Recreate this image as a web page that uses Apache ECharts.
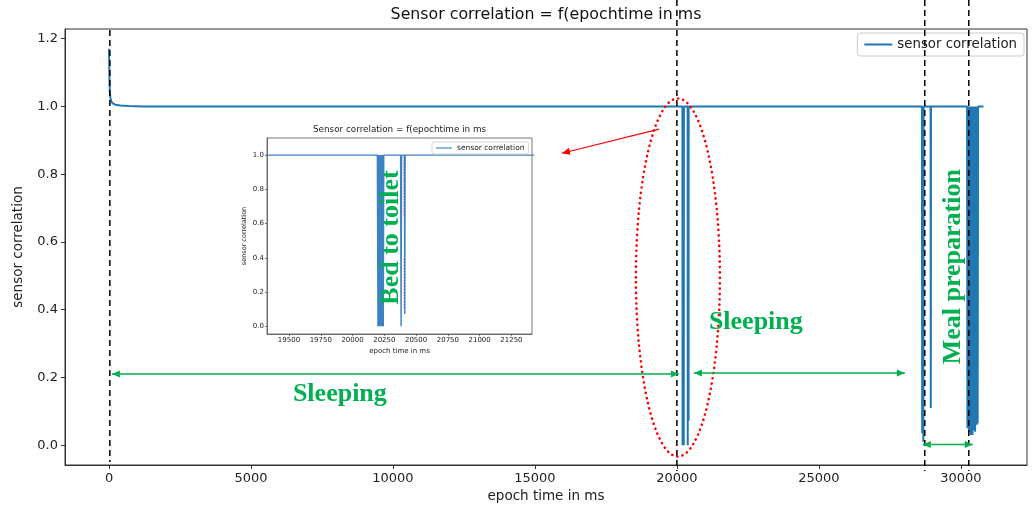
<!DOCTYPE html>
<html>
<head>
<meta charset="utf-8">
<script src="https://cdn.jsdelivr.net/npm/echarts@6/dist/echarts.min.js"></script>
<style>
html,body{margin:0;padding:0;background:#fff;}
#c{width:1036px;height:506px;}
</style>
</head>
<body>
<div id="c"></div>
<script>
// ---------- data ----------
const times = [
  0, 8, 18, 30, 50, 80, 130, 220, 400, 700, 1200,
  20195, 20200, 20205, 20210, 20214, 20218, 20222, 20226, 20230, 20234, 20238, 20242, 20246,
  20378, 20382, 20386, 20408, 20411, 20414,
  28630, 28638, 28646, 28672, 28680, 28688,
  28935, 28942, 28949,
  30220, 30232, 30247, 30262, 30277, 30292, 30307, 30322, 30337, 30352, 30367, 30382,
  30397, 30412, 30427, 30442, 30457, 30472, 30487, 30502, 30517, 30532, 30547, 30562,
  30577, 30592, 30607,
  30800
];
const values = [
  1.17, 1.12, 1.07, 1.04, 1.025, 1.015, 1.009, 1.005, 1.003, 1.001, 1.0,
  1.0, 0.0, 1.0, 0.0, 1.0, 0.0, 1.0, 0.0, 1.0, 0.0, 1.0, 0.0, 1.0,
  1.0, 0.0, 1.0, 1.0, 0.072, 1.0,
  1.0, 0.035, 1.0, 1.0, 0.01, 1.0,
  1.0, 0.11, 1.0,
  1.0, 0.05, 1.0, 0.06, 1.0, 0.045, 1.0, 0.04, 1.0, 0.03, 1.0, 0.035,
  1.0, 0.03, 1.0, 0.05, 1.0, 0.045, 1.0, 0.04, 1.0, 0.065, 1.0, 0.06,
  1.0, 0.065, 1.0,
  1.0
];
const xTicks = [0, 5000, 10000, 15000, 20000, 25000, 30000];
const yTicks = [0, 0.2, 0.4, 0.6, 0.8, 1.0, 1.2];
const insetXTicks = [19500, 19750, 20000, 20250, 20500, 20750, 21000, 21250];
const insetYTicks = [0, 0.2, 0.4, 0.6, 0.8, 1.0];
const activityMarks = [30, 20000, 28730, 30280];
const seriesName = 'sensor correlation';
const titleText = 'Sensor correlation = f(epochtime in ms';
const xName = 'epoch time in ms';
const yName = 'sensor correlation';

// ---------- chart ----------
const FONT = '"DejaVu Sans", sans-serif';
const SERIF = '"Liberation Serif", "DejaVu Serif", serif';
const GREEN = '#00b050';
const RED = '#ff0000';
const axisColor = '#333';
const labelColor = '#222';
const pairs = times.map((t, i) => [t, values[i]]);

const chart = echarts.init(document.getElementById('c'), null, {renderer: 'canvas'});

const fmt1 = v => Number(v).toFixed(1);
const fmt0 = v => String(Math.round(v));

chart.setOption({
  animation: false,
  backgroundColor: '#fff',
  textStyle: {fontFamily: FONT},
  grid: [
    {left: 65, right: 9, top: 29, bottom: 41, show: true, borderColor: axisColor, borderWidth: 1,
     containLabel: false, outerBoundsMode: 'none'},
    {left: 267, right: 504, top: 138, bottom: 172, show: true, borderColor: '#555', borderWidth: 0.8,
     backgroundColor: '#fff', containLabel: false, outerBoundsMode: 'none'}
  ],
  xAxis: [
    {type: 'value', gridIndex: 0, min: -1550, max: 32330,
     splitLine: {show: false},
     axisLine: {show: true, onZero: false, lineStyle: {color: axisColor, width: 1}},
     axisTick: {show: true, length: 4, customValues: xTicks, lineStyle: {color: axisColor}},
     axisLabel: {customValues: xTicks, formatter: fmt0, fontSize: 13, color: labelColor, margin: 7, fontFamily: FONT},
     name: xName, nameLocation: 'middle', nameGap: 24,
     nameTextStyle: {fontSize: 13.5, color: labelColor, fontFamily: FONT}},
    {type: 'value', gridIndex: 1, min: 19327, max: 21412,
     splitLine: {show: false},
     axisLine: {show: true, onZero: false, lineStyle: {color: '#555', width: 0.8}},
     axisTick: {show: true, length: 2, customValues: insetXTicks, lineStyle: {color: '#555', width: 0.8}},
     axisLabel: {customValues: insetXTicks, formatter: fmt0, fontSize: 7, color: labelColor, margin: 3, fontFamily: FONT},
     name: xName, nameLocation: 'middle', nameGap: 14,
     nameTextStyle: {fontSize: 7, color: labelColor, fontFamily: FONT}}
  ],
  yAxis: [
    {type: 'value', gridIndex: 0, min: -0.0585, max: 1.2285,
     splitLine: {show: false},
     axisLine: {show: true, onZero: false, lineStyle: {color: axisColor, width: 1}},
     axisTick: {show: true, length: 4, customValues: yTicks, lineStyle: {color: axisColor}},
     axisLabel: {customValues: yTicks, formatter: fmt1, fontSize: 13, color: labelColor, margin: 7, fontFamily: FONT},
     name: yName, nameLocation: 'middle', nameGap: 40,
     nameTextStyle: {fontSize: 13.5, color: labelColor, fontFamily: FONT}},
    {type: 'value', gridIndex: 1, min: -0.045, max: 1.1,
     splitLine: {show: false},
     axisLine: {show: true, onZero: false, lineStyle: {color: '#555', width: 0.8}},
     axisTick: {show: true, length: 2, customValues: insetYTicks, lineStyle: {color: '#555', width: 0.8}},
     axisLabel: {customValues: insetYTicks, formatter: fmt1, fontSize: 7, color: labelColor, margin: 3, fontFamily: FONT},
     name: yName, nameLocation: 'middle', nameGap: 19,
     nameTextStyle: {fontSize: 6.5, color: labelColor, fontFamily: FONT}}
  ],
  legend: [
    {data: [seriesName], right: 12, top: 33, selectedMode: false, orient: 'horizontal',
     backgroundColor: '#fff', borderColor: '#ccc', borderWidth: 1, borderRadius: 3,
     padding: [5, 7], itemWidth: 28, itemHeight: 2, icon: 'rect',
     textStyle: {fontSize: 13.3, color: labelColor, fontFamily: FONT}},
    {data: [seriesName], left: 432, top: 142, selectedMode: false,
     backgroundColor: '#fff', borderColor: '#ccc', borderWidth: 0.8, borderRadius: 2,
     padding: [2, 4], itemWidth: 16, itemHeight: 1, itemGap: 3, icon: 'rect',
     textStyle: {fontSize: 7.5, color: labelColor, fontFamily: FONT}}
  ],
  series: [
    {name: seriesName, type: 'line', xAxisIndex: 0, yAxisIndex: 0, data: pairs,
     showSymbol: false, symbol: 'none', clip: true, z: 2,
     color: '#1f77b4', lineStyle: {color: '#1f77b4', width: 2}},
    {name: seriesName, type: 'line', xAxisIndex: 1, yAxisIndex: 1, data: pairs,
     showSymbol: false, symbol: 'none', clip: true, z: 3,
     color: '#4a8cc6', lineStyle: {color: '#3c82c2', width: 1.4}}
  ]
});

// ---------- annotations (anchored in data space) ----------
const P = (x, y) => chart.convertToPixel({gridIndex: 0}, [x, y]);
const Pi = (x, y) => chart.convertToPixel({gridIndex: 1}, [x, y]);
const g = [];

function head(tx, ty, fx, fy, color) {
  const dx = tx - fx, dy = ty - fy, L = Math.hypot(dx, dy) || 1;
  const ux = dx / L, uy = dy / L, len = 8, w = 3.5;
  const bx = tx - ux * len, by = ty - uy * len;
  return {type: 'polygon', z: 100, silent: true,
    shape: {points: [[tx, ty], [bx - uy * w, by + ux * w], [bx + uy * w, by - ux * w]]},
    style: {fill: color}};
}
function arrow(a, b, color, both, width) {
  g.push({type: 'line', z: 100, silent: true,
    shape: {x1: a[0], y1: a[1], x2: b[0], y2: b[1]},
    style: {stroke: color, lineWidth: width || 1.6}});
  g.push(head(b[0], b[1], a[0], a[1], color));
  if (both) g.push(head(a[0], a[1], b[0], b[1], color));
}

// titles
g.push({type: 'text', z: 100, silent: true, x: P(15390, 0)[0], y: 15,
  style: {text: titleText, font: '15.8px ' + FONT, fill: '#111', align: 'center', verticalAlign: 'middle',
          textAlign: 'center', textVerticalAlign: 'middle'}});
g.push({type: 'text', z: 100, silent: true, x: Pi(20370, 0)[0], y: 130,
  style: {text: titleText, font: '8.8px ' + FONT, fill: '#222', align: 'center', verticalAlign: 'middle',
          textAlign: 'center', textVerticalAlign: 'middle'}});

// dashed activity boundaries
activityMarks.forEach((m, i) => {
  const x = P(m, 0)[0];
  const y1 = i === 0 ? 30 : 0;
  const y2 = i === 0 ? 462 : 471;
  g.push({type: 'line', z: 90, silent: true, shape: {x1: x, y1: y1, x2: x, y2: y2},
    style: {stroke: '#000', lineWidth: 1.5, lineDash: [6, 4]}});
});

// green arrows
arrow(P(20070, 0.21), P(100, 0.21), GREEN, true);
arrow(P(20600, 0.213), P(28030, 0.213), GREEN, true);
arrow(P(28660, 0.002), P(30420, 0.002), GREEN, true);

// red ellipse around the first dips
const ec = P(20035, 0.495);
g.push({type: 'ellipse', z: 95, silent: true, shape: {cx: ec[0], cy: ec[1], rx: 42, ry: 179},
  style: {fill: 'none', stroke: RED, lineWidth: 2.6, lineDash: [0.1, 5.2], lineCap: 'round'}});
// red arrow to the inset
arrow(P(19370, 0.933), P(15950, 0.862), RED, false, 1.1);

// green labels
const lab = (txt, x, y, rot) => g.push({type: 'text', z: 110, silent: true, x: x, y: y, rotation: rot || 0,
  style: {text: txt, font: 'bold 26px ' + SERIF, fill: GREEN, align: 'center', verticalAlign: 'middle',
          textAlign: 'center', textVerticalAlign: 'middle'}});
let p = P(8130, 0.151); lab('Sleeping', p[0], p[1]);
p = P(22780, 0.364); lab('Sleeping', p[0], p[1]);
p = P(9930, 0.613); lab('Bed to toilet', p[0], p[1], Math.PI / 2);
p = P(29735, 0.527); lab('Meal preparation', p[0], p[1], Math.PI / 2);

// spell-check squiggles under rotated labels
const squig = (x, ya, yb) => g.push({type: 'line', z: 105, silent: true,
  shape: {x1: x, y1: ya, x2: x, y2: yb}, style: {stroke: RED, lineWidth: 1, lineDash: [1, 2], opacity: 0.6}});
squig(P(10380, 0)[0], P(0, 0.85)[1], P(0, 0.675)[1]);
squig(P(10380, 0)[0], P(0, 0.55)[1], P(0, 0.405)[1]);
squig(P(30250, 0)[0], P(0, 0.825)[1], P(0, 0.23)[1]);

chart.setOption({graphic: {elements: g}});
</script>
</body>
</html>
